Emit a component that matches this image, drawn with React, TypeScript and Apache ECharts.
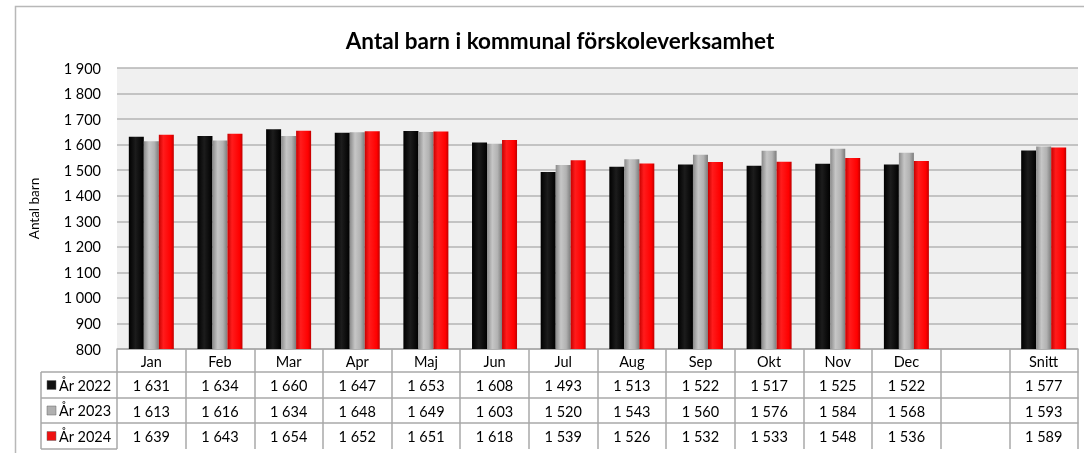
import React, { useEffect, useRef } from "react";
import * as echarts from "echarts";

const categories = ["Jan", "Feb", "Mar", "Apr", "Maj", "Jun", "Jul", "Aug", "Sep", "Okt", "Nov", "Dec", "", "Snitt"];
const seriesNames = ["År 2022", "År 2023", "År 2024"];
const values2022 = [1631, 1634, 1660, 1647, 1653, 1608, 1493, 1513, 1522, 1517, 1525, 1522, null, 1577];
const values2023 = [1613, 1616, 1634, 1648, 1649, 1603, 1520, 1543, 1560, 1576, 1584, 1568, null, 1593];
const values2024 = [1639, 1643, 1654, 1652, 1651, 1618, 1539, 1526, 1532, 1533, 1548, 1536, null, 1589];
const yTicks = { min: 800, max: 1900, interval: 100 };
const titleText = "Antal barn i kommunal förskoleverksamhet";
const yName = "Antal barn";

const FONT = "Lato, 'Liberation Sans', sans-serif";
const LINE = "#a8a8a8";

const fmt = (v: number | null) => {
  if (v === null || v === undefined) return "";
  const s = String(v);
  return s.replace(/\B(?=(\d{3})+(?!\d))/g, " ");
};

const grad = (stops: [number, string][]) =>
  new echarts.graphic.LinearGradient(0, 0, 1, 0, stops.map(([offset, color]) => ({ offset, color })));

const fills = [
  grad([[0, "#000000"], [0.45, "#1c1c1c"], [1, "#000000"]]),
  grad([[0, "#8a8a8a"], [0.35, "#c6c6c6"], [0.7, "#b2b2b2"], [1, "#7c7c7c"]]),
  grad([[0, "#c80000"], [0.3, "#ff1c1c"], [0.8, "#ff0000"], [1, "#c00000"]]),
];
const iconFills = ["#111111", "#b0b0b0", "#ee1111"];
const allValues = [values2022, values2023, values2024];

export default function App() {
  const ref = useRef<HTMLDivElement>(null);
  useEffect(() => {
    if (!ref.current) return;
    const chart = echarts.init(ref.current, null, { renderer: "svg" });
    const gridLeft = 117;
    const gridTop = 68;
    const gridW = 961;
    const gridH = 281;
    const base = gridTop + gridH; // 349
    const rowLines = [23, 49, 74, 100];

    const rowAxes = allValues.map((vals, i) => ({
      type: "category",
      gridIndex: 0,
      position: "bottom",
      offset: rowLines[i],
      data: categories,
      axisLine: { show: true, lineStyle: { color: LINE, width: 1.5 } },
      axisTick: { show: false },
      axisLabel: {
        interval: 0,
        margin: 13,
        verticalAlign: "middle",
        color: "#000",
        fontSize: 14.5,
        fontFamily: FONT,
        formatter: (_v: string, idx: number) => fmt(vals[idx]),
      },
    }));

    const graphics: any[] = [
      {
        type: "rect",
        shape: { x: 15.5, y: 6.5, width: 1200, height: 600 },
        style: { fill: "none", stroke: "#b8b8b8", lineWidth: 1.5 },
        silent: true,
      },
      {
        type: "line",
        shape: { x1: 41, y1: base + rowLines[0], x2: 41, y2: base + rowLines[3] },
        style: { stroke: LINE, lineWidth: 1.5 },
      },
    ];
    rowLines.forEach((o) => {
      graphics.push({
        type: "line",
        shape: { x1: 41, y1: base + o, x2: gridLeft, y2: base + o },
        style: { stroke: LINE, lineWidth: 1.5 },
      });
    });
    seriesNames.forEach((name, i) => {
      const cy = base + (rowLines[i] + rowLines[i + 1]) / 2;
      graphics.push({
        type: "rect",
        shape: { x: 47, y: cy - 4.5, width: 9, height: 9 },
        style: { fill: iconFills[i], stroke: "#666", lineWidth: 0.5 },
      });
      graphics.push({
        type: "text",
        x: 59,
        y: cy,
        style: { text: name, fill: "#000", font: `14.5px ${FONT}`, textVerticalAlign: "middle" },
      });
    });

    chart.setOption({
      animation: false,
      title: {
        text: titleText,
        left: 555,
        top: 24,
        textAlign: "center",
        textStyle: { fontFamily: FONT, fontSize: 22.5, fontWeight: "bold", color: "#000" },
      },
      grid: {
        left: gridLeft,
        top: gridTop,
        width: gridW,
        height: gridH,
        show: true,
        backgroundColor: "#f0f0f0",
        borderWidth: 0,
      },
      xAxis: [
        {
          type: "category",
          gridIndex: 0,
          position: "bottom",
          data: categories,
          axisLine: { show: true, lineStyle: { color: LINE, width: 1.5 } },
          axisTick: { show: true, length: 100, interval: 0, lineStyle: { color: LINE, width: 1.5 } },
          axisLabel: {
            interval: 0,
            margin: 12,
            verticalAlign: "middle",
            color: "#000",
            fontSize: 14.5,
            fontFamily: FONT,
          },
        },
        ...rowAxes,
      ],
      yAxis: {
        type: "value",
        min: yTicks.min,
        max: yTicks.max,
        interval: yTicks.interval,
        name: yName,
        nameLocation: "middle",
        nameGap: 76,
        nameTextStyle: { fontFamily: FONT, fontSize: 13.5, color: "#000" },
        axisLine: { show: false },
        axisTick: { show: false },
        axisLabel: { color: "#000", fontSize: 14.5, fontFamily: FONT, margin: 16, formatter: (v: number) => fmt(v) },
        splitLine: { show: true, lineStyle: { color: "#b4b4b4", width: 1.5 } },
      },
      series: seriesNames.map((name, i) => ({
        name,
        type: "bar",
        xAxisIndex: 0,
        barWidth: 15,
        barGap: "0%",
        data: allValues[i],
        itemStyle: { color: fills[i] },
      })),
      graphic: graphics,
    });
    return () => chart.dispose();
  }, []);
  return <div ref={ref} style={{ position: "fixed", left: 0, top: 0, width: 1084, height: 453 }} />;
}
